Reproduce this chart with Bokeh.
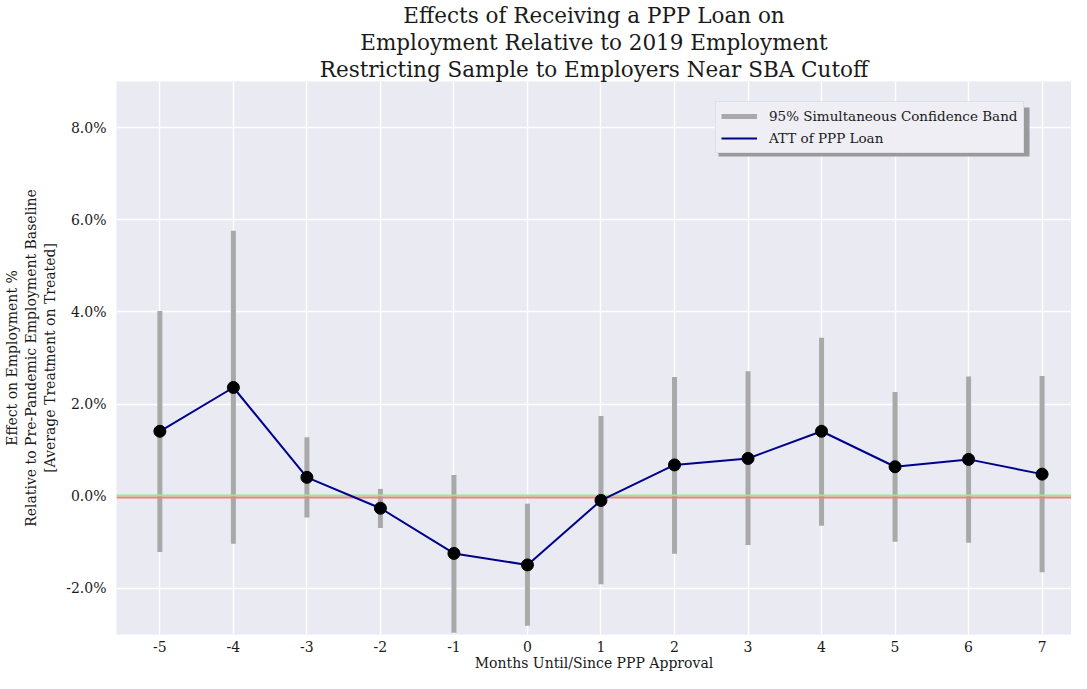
from bokeh.plotting import figure
from bokeh.models import (ColumnDataSource, Legend, LegendItem, FixedTicker,
                          PrintfTickFormatter, Range1d, BoxAnnotation, Title)
from bokeh.embed import file_html
from bokeh.resources import INLINE

# months relative to PPP approval
months = [-5, -4, -3, -2, -1, 0, 1, 2, 3, 4, 5, 6, 7]
# ATT point estimates (% of pre-pandemic employment)
att = [1.41, 2.36, 0.41, -0.26, -1.24, -1.49, -0.09, 0.68, 0.82, 1.41, 0.64, 0.80, 0.48]
# 95% simultaneous confidence band
ci_low = [-1.21, -1.03, -0.46, -0.69, -2.96, -2.81, -1.91, -1.25, -1.06, -0.64, -0.99, -1.01, -1.65]
ci_high = [4.02, 5.76, 1.28, 0.16, 0.46, -0.16, 1.74, 2.59, 2.71, 3.44, 2.26, 2.60, 2.61]
y_ticks = [-2, 0, 2, 4, 6, 8]
title_lines = ["Effects of Receiving a PPP Loan on",
               "Employment Relative to 2019 Employment",
               "Restricting Sample to Employers Near SBA Cutoff"]

SERIF = "DejaVu Serif"
TXT = "#1a1a1a"

src = ColumnDataSource(data=dict(month=months, att=att, lo=ci_low, hi=ci_high))

p = figure(width=1071, height=673, title=None,
           x_range=Range1d(-5.59, 7.40), y_range=Range1d(-3, 9),
           output_backend="svg", toolbar_location=None, tools="",
           min_border_left=109, min_border_right=0,
           min_border_top=77, min_border_bottom=36)

# three centred title lines, last line closest to the plot
for line in reversed(title_lines):
    t = Title(text=line, align="center", text_font=SERIF, text_font_size="21.5px",
              text_font_style="normal", text_color=TXT, standoff=0, offset=0)
    p.add_layout(t, "above")

p.background_fill_color = "#EAEAF2"
p.border_fill_color = "white"
p.outline_line_color = None
p.grid.grid_line_color = "white"
p.grid.grid_line_width = 1.4

for ax in (p.xaxis, p.yaxis):
    ax.axis_line_color = None
    ax.major_tick_line_color = None
    ax.minor_tick_line_color = None
    ax.major_tick_out = 0
    ax.major_tick_in = 0
    ax.minor_tick_out = 0
    ax.major_label_text_font = SERIF
    ax.major_label_text_font_size = "14px"
    ax.major_label_text_color = TXT
    ax.axis_label_text_font = SERIF
    ax.axis_label_text_font_size = "14px"
    ax.axis_label_text_font_style = "normal"
    ax.axis_label_text_color = TXT

p.xaxis.ticker = FixedTicker(ticks=months)
p.xaxis.formatter = PrintfTickFormatter(format="%d")
p.xaxis.major_label_standoff = 6
p.xaxis.axis_label = "Months Until/Since PPP Approval"
p.xaxis.axis_label_standoff = 0

p.yaxis.ticker = FixedTicker(ticks=y_ticks)
p.yaxis.formatter = PrintfTickFormatter(format="%.1f%%")
p.yaxis.major_label_standoff = 10
p.yaxis.axis_label = ("Effect on Employment %\n"
                      "Relative to Pre-Pandemic Employment Baseline\n"
                      "[Average Treatment on Treated]")
p.yaxis.axis_label_standoff = 5

# confidence band bars
band = p.segment(x0="month", y0="lo", x1="month", y1="hi", source=src,
                 line_color="#A9A9A9", line_width=5)

# zero reference lines
p.hspan(y=[0.02], line_color="#90EE90", line_width=2)
p.hspan(y=[-0.02], line_color="#F08080", line_width=2)

att_line = p.line(x="month", y="att", source=src, line_color="#00008B", line_width=2)
p.scatter(x="month", y="att", source=src, size=12, fill_color="black", line_color="black")

# drop shadow behind the legend box (screen units, relative to the frame)
leg_x, leg_y = 599, 481
shadow = BoxAnnotation(left=leg_x + 3, right=leg_x + 314, bottom=leg_y - 3, top=leg_y + 46,
                       left_units="screen", right_units="screen",
                       top_units="screen", bottom_units="screen",
                       fill_color="#9a9a9a", fill_alpha=1.0, line_color=None)
p.add_layout(shadow)

legend = Legend(items=[LegendItem(label="95% Simultaneous Confidence Band", renderers=[band]),
                       LegendItem(label="ATT of PPP Loan", renderers=[att_line])],
                location=(leg_x, leg_y))
legend.label_text_font = SERIF
legend.label_text_font_size = "13.5px"
legend.label_text_color = TXT
legend.background_fill_color = "#EEEEF4"
legend.background_fill_alpha = 1.0
legend.border_line_color = "#cfcfd4"
legend.border_line_width = 1.5
legend.glyph_width = 36
legend.glyph_height = 18
legend.label_height = 18
legend.label_standoff = 12
legend.spacing = 4
legend.padding = 5
legend.margin = 0
p.add_layout(legend)

open("out.html", "w").write(file_html(p, INLINE))
